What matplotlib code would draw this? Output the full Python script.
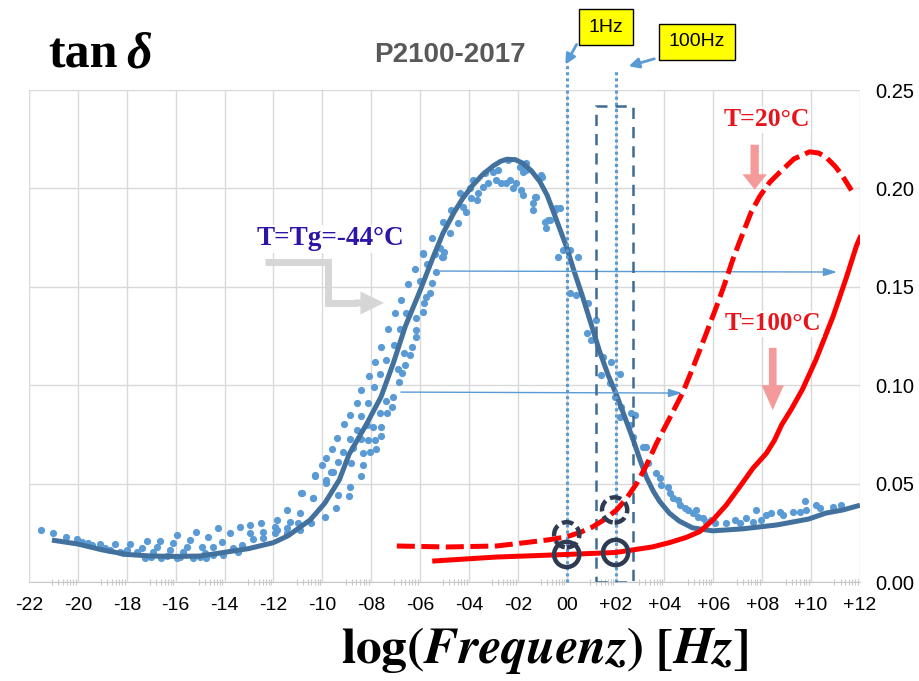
import matplotlib.pyplot as plt
import numpy as np
from matplotlib.patches import Rectangle

plt.rcParams["mathtext.fontset"] = "stix"
plt.rcParams["font.family"] = ["Liberation Sans", "DejaVu Sans"]

W, H = 920, 681

# achsen
x_ticks = list(range(-22, 13, 2))
x_tick_labels = ["-22", "-20", "-18", "-16", "-14", "-12", "-10", "-08", "-06",
                 "-04", "-02", "00", "+02", "+04", "+06", "+08", "+10", "+12"]
y_ticks = [0.00, 0.05, 0.10, 0.15, 0.20, 0.25]

# masterkurve Tg (blaue linie)
master_x = [-21.06, -20, -19, -18, -17, -16, -15, -14.2, -13, -12, -11.4, -10.5,
            -9.9, -9.3, -8.9, -8.2, -7.6, -7.1, -6.6, -6.0, -5.5, -5.07, -4.6, -4.25,
            -3.85, -3.44, -3.0, -2.7, -2.45, -2.1, -1.8, -1.45, -1.1, -0.8, -0.57,
            -0.3, 0, 0.3, 0.65, 1.0, 1.35, 1.7, 2.04, 2.4, 2.7, 3.0, 3.27, 3.55, 3.8,
            4.2, 4.6, 5.15, 5.97, 7.2, 8.6, 9.9, 10.6, 11.3, 12]
master_y = [0.0213, 0.0193, 0.0163, 0.0140, 0.0132, 0.0130, 0.0132, 0.0147, 0.0170,
            0.0200, 0.0235, 0.0315, 0.040, 0.052, 0.065, 0.080, 0.094, 0.111, 0.130,
            0.148, 0.164, 0.177, 0.188, 0.195, 0.2015, 0.207, 0.2115, 0.2138, 0.2148,
            0.2146, 0.2128, 0.209, 0.2035, 0.1965, 0.189, 0.180, 0.170, 0.158, 0.145,
            0.131, 0.117, 0.105, 0.095, 0.083, 0.073, 0.062, 0.053, 0.046, 0.041,
            0.035, 0.031, 0.0275, 0.026, 0.027, 0.029, 0.032, 0.035, 0.0366, 0.039]

# messpunkte (verschobene isothermen)
dots_low_x = [-21.49, -21.03, -20.49, -20.03, -19.85, -19.58, -19.44, -19.10, -18.90,
              -18.49, -18.69, -18.28, -17.87, -18.01, -18.15, -17.60, -17.19, -17.39,
              -17.26, -16.65, -16.78, -16.92, -16.99, -16.58, -16.10, -15.94, -16.24,
              -16.37, -15.96, -15.42, -15.15, -15.55, -15.69, -15.83, -15.28, -14.94,
              -14.67, -14.26, -14.81, -15.01, -14.47, -14.12, -13.78, -13.37, -12.97,
              -12.49, -11.87, -11.46, -10.88, -10.31, -10.38, -9.63, -9.83, -9.35,
              -9.45, -9.90, -10.48, -10.92, -11.33, -11.46, -11.87, -12.42, -12.83,
              -12.97, -13.30, -13.44, -13.65, -14.06, -14.47, -14.74, -12.42, -11.94,
              -11.94, -11.46, -10.99, -10.92]
dots_low_y = [0.0264, 0.0247, 0.0227, 0.0218, 0.0205, 0.0197, 0.0188, 0.0193, 0.0171,
              0.0193, 0.0163, 0.0154, 0.0193, 0.0163, 0.0146, 0.0154, 0.0208, 0.0171,
              0.0120, 0.0208, 0.0179, 0.0154, 0.0129, 0.0120, 0.0197, 0.0239, 0.0163,
              0.0132, 0.0120, 0.0213, 0.0256, 0.0179, 0.0154, 0.0129, 0.0120, 0.0179,
              0.0230, 0.0273, 0.0146, 0.0126, 0.0179, 0.0205, 0.0247, 0.0281, 0.0290,
              0.0298, 0.0315, 0.0366, 0.0451, 0.0544, 0.0425, 0.0561, 0.0502, 0.0442,
              0.0374, 0.0332, 0.0298, 0.0349, 0.0306, 0.0273, 0.0264, 0.0256, 0.0217,
              0.0247, 0.0188, 0.0154, 0.0171, 0.0137, 0.0137, 0.0120, 0.0222, 0.0281,
              0.0247, 0.0247, 0.0298, 0.0264]

dots_rise_x = [-10.85, -10.38, -10.31, -9.83, -10.03, -9.58, -9.86, -9.60, -9.35, -9.39,
               -9.15, -9.12, -8.88, -8.81, -8.88, -8.90, -8.85, -8.60, -8.40, -8.60,
               -8.40, -8.33, -8.33, -8.40, -8.13, -8.40, -8.08, -7.85, -7.89, -7.65,
               -7.58, -7.40, -7.31, -7.08, -7.03, -6.83, -6.76, -6.49, -6.56, -6.22,
               -6.01, -5.90, -5.71, -5.53, -5.33, -5.74, -5.88, -6.15, -6.15, -6.35,
               -6.63, -6.90, -6.86, -7.10, -7.35, -7.40, -7.58, -7.61, -7.85, -7.81,
               -8.06, -8.13, -7.92, -6.15, -5.85, -5.60, -5.40, -5.12, -5.03, -6.42,
               -6.65, -6.72, -7.13, -7.65, -8.19, -8.74]
dots_rise_y = [0.0451, 0.0425, 0.0539, 0.0518, 0.0595, 0.0561, 0.0628, 0.0676, 0.0612,
               0.0730, 0.0662, 0.0803, 0.0725, 0.0603, 0.0481, 0.0437, 0.0847, 0.0911,
               0.0845, 0.0772, 0.0725, 0.0654, 0.0595, 0.0539, 0.0911, 0.0976, 0.1048,
               0.1119, 0.0989, 0.1055, 0.1196, 0.1128, 0.1284, 0.1204, 0.1365, 0.1284,
               0.1433, 0.1513, 0.1365, 0.1589, 0.1531, 0.1667, 0.1616, 0.1518, 0.1577,
               0.1450, 0.1373, 0.1280, 0.1246, 0.1193, 0.1103, 0.1081, 0.1018, 0.0942,
               0.0860, 0.0920, 0.0789, 0.0742, 0.0722, 0.0674, 0.0662, 0.0722, 0.0789,
               0.1340, 0.1419, 0.1467, 0.1667, 0.1653, 0.1678, 0.1153, 0.1162, 0.1064,
               0.0891, 0.0857, 0.0798, 0.0679]

dots_peak_x = [-5.53, -5.90, -5.06, -5.19, -4.38, -4.72, -4.79, -5.06, -3.97, -4.24,
               -4.45, -3.83, -3.63, -3.35, -3.42, -3.69, -3.01, -2.88, -2.81, -2.40,
               -2.33, -2.20, -1.92, -1.79, -1.85, -1.79, -1.04, -1.24, -1.38, -0.29,
               -0.83, -0.90, -0.36, -0.15, -4.10, -3.90, -3.22, -2.67, -2.47, -2.06,
               -1.65, -1.38, -0.70, -0.49, -1.65, -1.03, -1.31, -0.76, -0.42, 0.12,
               0.46]
dots_peak_y = [0.1746, 0.1670, 0.1831, 0.1696, 0.1975, 0.1890, 0.1772, 0.1653, 0.2000,
               0.1907, 0.1823, 0.2043, 0.1975, 0.2077, 0.2009, 0.1941, 0.2085, 0.2043,
               0.2094, 0.2144, 0.2043, 0.2000, 0.2110, 0.2085, 0.1992, 0.1966, 0.2068,
               0.1958, 0.1890, 0.1899, 0.1797, 0.1831, 0.1653, 0.1687, 0.1882, 0.1950,
               0.2026, 0.2026, 0.2026, 0.2026, 0.2094, 0.1924, 0.1839, 0.1890, 0.2127,
               0.2060, 0.1958, 0.1839, 0.1899, 0.1687, 0.1653]

dots_fall_x = [0.12, 0.40, 0.87, 1.21, 0.83, 1.01, 1.49, 1.42, 1.83, 2.17, 1.76, 1.96,
               2.24, 2.17, 2.65, 2.78, 2.58, 2.71, 3.12, 3.26]
dots_fall_y = [0.1467, 0.1458, 0.1416, 0.1331, 0.1264, 0.1230, 0.1145, 0.1052, 0.1119,
               0.1057, 0.1010, 0.0942, 0.0891, 0.0840, 0.0857, 0.0849, 0.0798, 0.0738,
               0.0687, 0.0687]

dots_tail_x = [3.33, 3.67, 3.80, 3.87, 4.14, 4.21, 4.35, 4.55, 4.62, 4.83, 4.96, 5.17,
               5.30, 5.37, 5.58, 5.71, 5.92, 6.05, 6.53, 6.87, 7.08, 7.35, 7.62, 7.76,
               7.96, 8.17, 8.37, 8.71, 8.85, 9.26, 9.53, 9.73, 9.80, 10.21, 10.35,
               10.89, 11.23]
dots_tail_y = [0.0603, 0.0552, 0.0527, 0.0493, 0.0484, 0.0451, 0.0425, 0.0417, 0.0391,
               0.0374, 0.0366, 0.0349, 0.0366, 0.0332, 0.0324, 0.0306, 0.0315, 0.0298,
               0.0298, 0.0315, 0.0298, 0.0324, 0.0306, 0.0366, 0.0315, 0.0340, 0.0349,
               0.0357, 0.0340, 0.0357, 0.0357, 0.0413, 0.0366, 0.0391, 0.0374, 0.0383,
               0.0391]

# T = 20°C (rot gestrichelt)
t20_x = [-6.95, -4.9, -2.86, -1.5, -0.7, 0, 0.55, 1.06, 1.55, 2.04, 2.45, 2.86, 3.25,
         3.68, 4.2, 4.74, 5.2, 5.7, 6.1, 6.45, 6.8, 7.2, 7.55, 7.9, 8.3, 8.7, 9.3,
         9.94, 10.3, 10.6, 11.0, 11.3, 11.65]
t20_y = [0.0183, 0.0178, 0.0183, 0.0203, 0.0215, 0.023, 0.0252, 0.028, 0.0318, 0.0366,
         0.0425, 0.050, 0.059, 0.0706, 0.083, 0.096, 0.110, 0.126, 0.139, 0.151, 0.164,
         0.177, 0.188, 0.196, 0.203, 0.208, 0.2150, 0.2186, 0.2180, 0.2160, 0.211,
         0.206, 0.199]

# T = 100°C (rot durchgezogen)
t100_x = [-5.4, -4.0, -2.86, -1.5, 0, 1.0, 2.0, 2.8, 3.5, 4.2, 4.9, 5.44, 5.98, 6.53,
          7.08, 7.62, 8.17, 8.5, 8.8, 9.2, 9.65, 10.2, 10.9, 11.45, 11.86, 12]
t100_y = [0.0107, 0.0118, 0.0127, 0.0133, 0.014, 0.0145, 0.015, 0.0165, 0.0178, 0.020,
          0.0227, 0.0256, 0.0315, 0.0391, 0.0484, 0.0578, 0.0654, 0.072, 0.080, 0.088,
          0.098, 0.113, 0.135, 0.155, 0.171, 0.175]

# markierungen bei 1 Hz und 100 Hz
freq_marks = [0, 2]
ring_t100_y = [0.014, 0.015]
ring_t20_x = [0, 1.96]
ring_t20_y = [0.024, 0.0366]

BLUE_LINE = "#41719C"
BLUE_DOT = "#5B9BD5"
RED = "#FF0000"
NAVY = "#2F3B52"
PINK = "#F59A9A"
GRAY_ARROW = "#D6D6D6"


def fp(x, y):
    # pixel (oben links) -> figure fraction
    return x / W, 1 - y / H


fig = plt.figure(figsize=(W / 100, H / 100), dpi=100)
ax = fig.add_axes([29 / W, 1 - 582 / H, 831 / W, 492 / H])
ax.set_xlim(-22, 12)
ax.set_ylim(0, 0.25)

ax.set_xticks(x_ticks)
ax.set_xticklabels(x_tick_labels)
minor = [g + 2 * np.log10(k) for g in x_ticks[:-1] for k in range(3, 10)]
ax.set_xticks(minor, minor=True)
ax.set_yticks(y_ticks)
ax.set_yticklabels(["%.2f" % v for v in y_ticks])
ax.yaxis.tick_right()

ax.grid(True, which="major", color="#D9D9D9", lw=1)
for s in ["top", "left", "right"]:
    ax.spines[s].set_visible(False)
ax.spines["bottom"].set_color("#C8C8C8")
ax.tick_params(axis="x", which="major", length=0, pad=11, labelsize=14)
ax.tick_params(axis="x", which="minor", length=5, direction="inout",
               color="#C8C8C8", width=0.8)
ax.tick_params(axis="y", length=0, pad=11, labelsize=14.5)

# messpunkte und masterkurve
for dx, dy in [(dots_low_x, dots_low_y), (dots_rise_x, dots_rise_y),
               (dots_peak_x, dots_peak_y), (dots_fall_x, dots_fall_y),
               (dots_tail_x, dots_tail_y)]:
    ax.plot(dx, dy, "o", color=BLUE_DOT, ms=5.2, mew=0, zorder=3)
ax.plot(master_x, master_y, color=BLUE_LINE, lw=3.6, solid_capstyle="butt",
        solid_joinstyle="round", zorder=4)

# horizontale pfeile
ax.annotate("", xy=(11.17, 0.1575), xytext=(-5.3, 0.1580),
            arrowprops=dict(arrowstyle="-|>,head_length=0.8,head_width=0.25",
                            color=BLUE_DOT, lw=1, mutation_scale=10), zorder=5)
ax.annotate("", xy=(4.83, 0.096), xytext=(-6.9, 0.0965),
            arrowprops=dict(arrowstyle="-|>,head_length=0.8,head_width=0.25",
                            color=BLUE_DOT, lw=1, mutation_scale=10), zorder=5)

# 1 Hz / 100 Hz linien
ax.plot([freq_marks[0]] * 2, [0, 0.2627], color=BLUE_DOT, lw=2.2,
        dashes=(1, 1), clip_on=False, zorder=5)
ax.plot([freq_marks[1]] * 2, [0, 0.2600], color=BLUE_DOT, lw=2.2,
        dashes=(1, 1), clip_on=False, zorder=5)
ax.add_patch(Rectangle((1.2, 0), 1.5, 0.242, fill=False, ec="#3E6B94", lw=1.8,
                       ls=(0, (4.5, 3.2)), zorder=5))

# rote kurven
ax.plot(t20_x, t20_y, color=RED, lw=3.6, dashes=(3.6, 1.3), zorder=6)
ax.plot(t100_x, t100_y, color=RED, lw=3.6, solid_joinstyle="round", zorder=6)

# kreise
ax.scatter(freq_marks, ring_t100_y, s=330, facecolors="none", edgecolors=NAVY,
           linewidths=3.2, zorder=7)
ax.scatter(ring_t20_x, ring_t20_y, s=330, facecolors="none", edgecolors=NAVY,
           linewidths=3.2, linestyles=[(0, (2.6, 1.1))], zorder=7)

# grauer winkelpfeil
ax.plot([-12.35, -9.78, -9.78, -8.6], [0.1626, 0.1626, 0.1418, 0.1418],
        color=GRAY_ARROW, lw=5, solid_joinstyle="miter", solid_capstyle="butt",
        zorder=5)
ax.annotate("", xy=(-7.36, 0.1418), xytext=(-8.8, 0.1418),
            arrowprops=dict(arrowstyle="simple,head_width=1.66,head_length=1.7,tail_width=0.5",
                            color=GRAY_ARROW, lw=0, mutation_scale=10), zorder=5)

# rosa pfeile
ax.annotate("", xy=(7.69, 0.198), xytext=(7.69, 0.2236),
            arrowprops=dict(arrowstyle="simple,head_width=1.75,head_length=1.1,tail_width=0.6",
                            color=PINK, lw=0, mutation_scale=10), zorder=6)
ax.annotate("", xy=(8.43, 0.0859), xytext=(8.43, 0.1204),
            arrowprops=dict(arrowstyle="simple,head_width=1.6,head_length=1.8,tail_width=0.55",
                            color=PINK, lw=0, mutation_scale=10), zorder=6)

# beschriftungen
serif = ["Liberation Serif", "DejaVu Serif"]
white = dict(facecolor="white", edgecolor="none", pad=1)
ax.text(-9.68, 0.1743, "T=Tg=-44°C", family=serif, weight="bold", fontsize=19.5,
        color="#2E14A6", ha="center", va="center", bbox=white, zorder=8)
ax.text(8.17, 0.2348, "T=20°C", family=serif, weight="bold", fontsize=18.5,
        color="#E8141B", ha="center", va="center", bbox=white, zorder=8)
ax.text(8.43, 0.1311, "T=100°C", family=serif, weight="bold", fontsize=18,
        color="#E8141B", ha="center", va="center", bbox=white, zorder=8)

fig.text(*fp(48, 67), "tan", family=serif, weight="bold", fontsize=36,
         va="baseline", ha="left")
fig.text(*fp(126, 67), "δ", family=serif, weight="bold", style="italic",
         fontsize=36, va="baseline", ha="left")
fig.text(*fp(450, 55), "P2100-2017", fontsize=20, weight="bold", color="#595959",
         ha="center", va="center")
fig.text(*fp(545, 651),
         r"$\mathbf{log(}\boldsymbol{Frequenz}\mathbf{)\ [}\boldsymbol{Hz}\mathbf{]}$",
         fontsize=37, ha="center", va="center")

yellow = dict(boxstyle="square,pad=0.5", facecolor="#FFFF00", edgecolor="black", lw=1)
fig.text(*fp(606, 27), "1Hz", fontsize=14, ha="center", va="center", bbox=yellow)
fig.text(*fp(697, 42), "100Hz", fontsize=14, ha="center", va="center", bbox=yellow)
ax.annotate("", xy=fp(564, 67), xytext=fp(578, 42), xycoords="figure fraction",
            textcoords="figure fraction",
            arrowprops=dict(arrowstyle="-|>,head_length=0.6,head_width=0.3",
                            color=BLUE_DOT, lw=2, mutation_scale=10))
ax.annotate("", xy=fp(626, 67), xytext=fp(657, 58), xycoords="figure fraction",
            textcoords="figure fraction",
            arrowprops=dict(arrowstyle="-|>,head_length=0.6,head_width=0.3",
                            color=BLUE_DOT, lw=2, mutation_scale=10))

plt.savefig("out.png", dpi=100)
